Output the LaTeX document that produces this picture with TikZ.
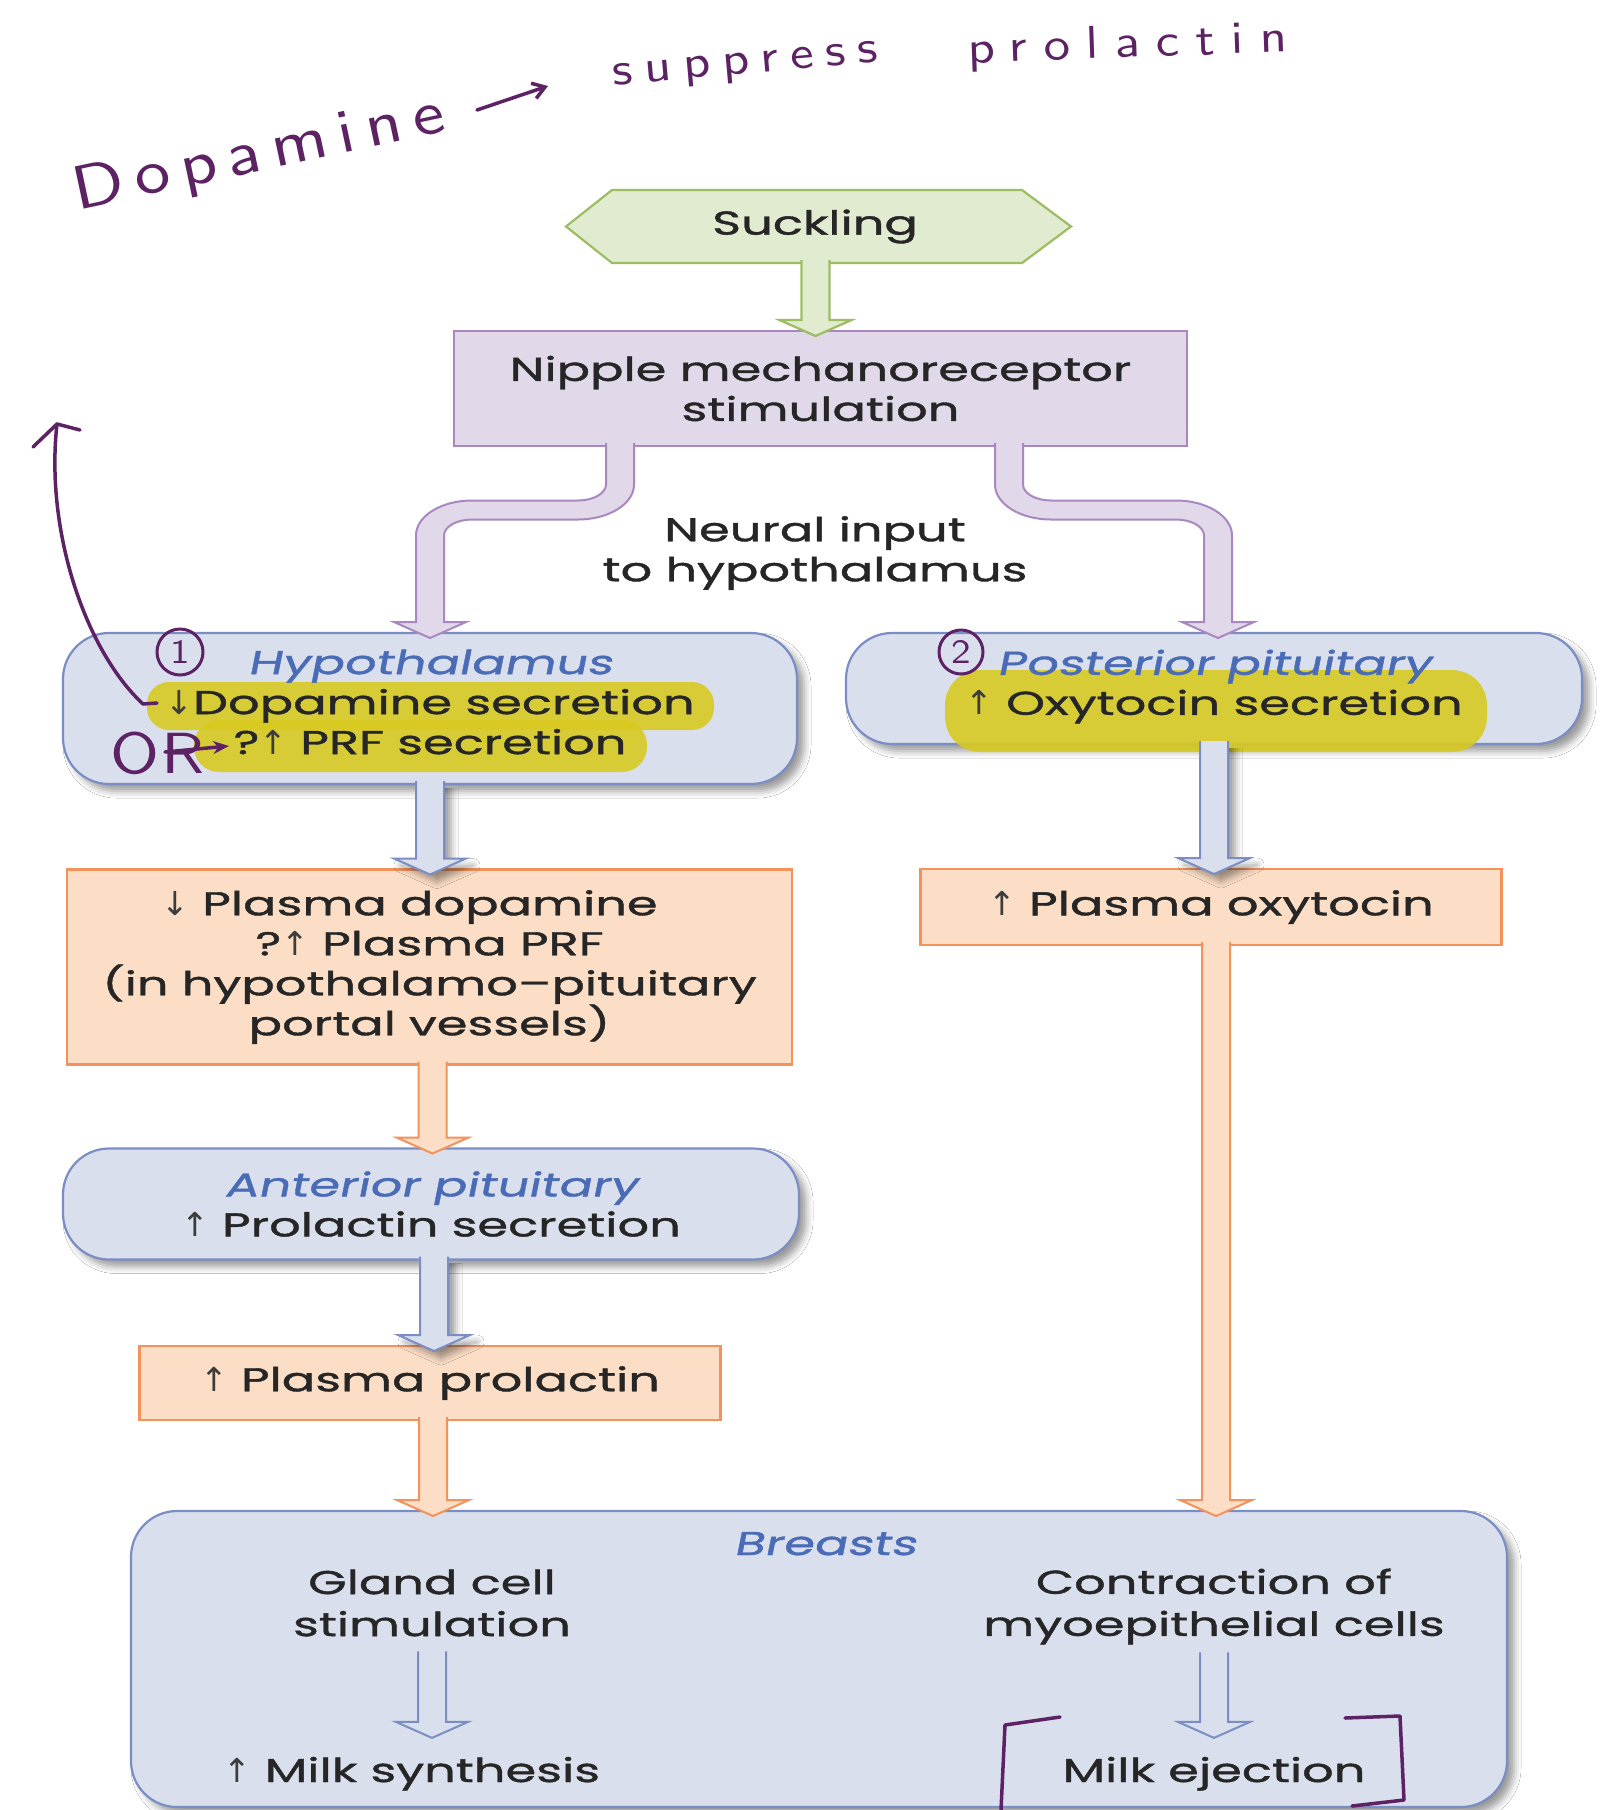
\documentclass[tikz,border=0pt]{standalone}
\usepackage{fontspec}
\setmainfont{Poppins}[FakeStretch=1.5,FakeBold=1.2]
\newfontfamily\slantfont{Poppins}[FakeStretch=1.5,FakeSlant=0.2,FakeBold=1.2]
\newfontfamily\arrowglyphs{DejaVu Sans}
\newfontfamily\penfamily{lmsans10-regular.otf}[FakeStretch=1.15]
\usetikzlibrary{calc,arrows.meta,shadows.blur}

\definecolor{ink}{HTML}{262626}
\definecolor{inkgray}{HTML}{3C3C3C}
\definecolor{bluefill}{HTML}{DADFEE}
\definecolor{blueline}{HTML}{7A8EC4}
\definecolor{bluelabel}{HTML}{4A6CB6}
\definecolor{orangefill}{HTML}{FCDEC6}
\definecolor{orangeline}{HTML}{F3935B}
\definecolor{lilacfill}{HTML}{E1D9EA}
\definecolor{lilacline}{HTML}{AA87C0}
\definecolor{greenfill}{HTML}{E1EBCF}
\definecolor{greenline}{HTML}{9CBD62}
\definecolor{pen}{HTML}{5C2264}
\definecolor{marker}{HTML}{D8CA22}

\newcommand\bodysize{\fontsize{33}{40}\selectfont}
\newcommand\upmark{{\arrowglyphs\color{inkgray}↑}}
\newcommand\downmark{{\arrowglyphs\color{inkgray}↓}}
% handwriting: size #1, extra letter spacing #2
\newcommand\penfont[2]{\penfamily\addfontfeature{LetterSpace=#2}\fontsize{#1}{#1}\selectfont}

% straight block arrow: leaves #2 (shaft start), tip just inside #3
\newcommand\vblock[3][]{%
  \path[#1] let \p1=(#2), \p2=(#3) in
    (\x2-14pt,\y1+3pt) -- (\x2-14pt,\y2+11pt) -- (\x2-36pt,\y2+11pt)
    -- (\x2,\y2-5pt) -- (\x2+36pt,\y2+11pt) -- (\x2+14pt,\y2+11pt)
    -- (\x2+14pt,\y1+3pt);%
}
% block arrow with two bends: down from #2, sideways (#4 = +1 right, -1 left), down to #3
\newcommand\elbow[4][]{%
  \path[#1] let \p1=(#2), \p2=(#3), \n1={#4} in
    (\x1+\n1*14pt,\y1+3pt)
    -- (\x1+\n1*14pt,\y1-38.5pt)
    .. controls (\x1+\n1*14pt,\y1-47.33pt) and (\x1+\n1*26.54pt,\y1-54.5pt) .. (\x1+\n1*42pt,\y1-54.5pt)
    -- (\x2-\n1*42pt,\y1-54.5pt)
    .. controls (\x2-\n1*11.09pt,\y1-54.5pt) and (\x2+\n1*14pt,\y1-70.18pt) .. (\x2+\n1*14pt,\y1-89.5pt)
    -- (\x2+\n1*14pt,\y2+11pt) -- (\x2+\n1*36pt,\y2+11pt) -- (\x2,\y2-5pt)
    -- (\x2-\n1*36pt,\y2+11pt) -- (\x2-\n1*14pt,\y2+11pt)
    -- (\x2-\n1*14pt,\y1-89.5pt)
    .. controls (\x2-\n1*14pt,\y1-80.67pt) and (\x2-\n1*26.54pt,\y1-73.5pt) .. (\x2-\n1*42pt,\y1-73.5pt)
    -- (\x1+\n1*42pt,\y1-73.5pt)
    .. controls (\x1+\n1*11.09pt,\y1-73.5pt) and (\x1-\n1*14pt,\y1-57.82pt) .. (\x1-\n1*14pt,\y1-38.5pt)
    -- (\x1-\n1*14pt,\y1+3pt);%
}

\begin{document}
\begin{tikzpicture}[x=1pt,y=-1pt,
  txt/.style={inner sep=0pt, outer sep=0pt, align=center, text=ink, font=\bodysize},
  lbl/.style={inner sep=0pt, outer sep=0pt, text=bluelabel, font=\slantfont\bodysize},
  soft shadow/.style={blur shadow={shadow xshift=7pt, shadow yshift=-7pt,
      shadow blur radius=7pt, shadow opacity=40}},
  shapebox/.style={inner sep=0pt, outer sep=0pt, line width=2.2pt},
  bluebox/.style={shapebox, draw=blueline, fill=bluefill, rounded corners=46pt, soft shadow},
  orangebox/.style={shapebox, draw=orangeline, fill=orangefill},
  lilacbox/.style={shapebox, draw=lilacline, fill=lilacfill},
  blueflow/.style={draw=blueline, fill=bluefill, line width=2pt, soft shadow},
  orangeflow/.style={draw=orangeline, fill=orangefill, line width=2pt},
  lilacflow/.style={draw=lilacline, fill=lilacfill, line width=2pt},
  greenflow/.style={draw=greenline, fill=greenfill, line width=2.2pt},
  openflow/.style={draw=blueline, line width=2pt},
  penline/.style={draw=pen, line width=3.5pt, line cap=round, line join=round},
  handtext/.style={inner sep=0pt, outer sep=0pt, text=pen},
  highlight/.style={fill=marker, fill opacity=0.9, rounded corners=22pt},
]
\fill[white] (0,0) rectangle (1614,1810);
\useasboundingbox (0,0) rectangle (1614,1810);

% ---------- top: suckling and receptor ----------
\node[inner sep=0pt, outer sep=0pt, minimum width=505pt, minimum height=73pt] (suckframe) at (818.5,226.5) {};
\path[greenflow] (suckframe.west) -- ($(suckframe.north west)+(46,0)$) -- ($(suckframe.north east)+(-49,0)$)
  -- (suckframe.east) -- ($(suckframe.south east)+(-49,0)$) -- ($(suckframe.south west)+(46,0)$) -- cycle;
\node[txt] (suck) at (815,226.5) {Suckling};

\node[lilacbox, txt, minimum width=733pt, minimum height=115pt] (nip) at (820.5,388.5)
  {Nipple mechanoreceptor\\stimulation};
\node[txt] (neural) at (815,553) {Neural input\\to hypothalamus};

% ---------- hypothalamus / posterior pituitary ----------
\node[bluebox, minimum width=734pt, minimum height=151pt] (hyp) at (430,708.5) {};
\node[bluebox, minimum width=736pt, minimum height=111pt] (post) at (1214,688.5) {};

\path[highlight] (147,682) rectangle (714,730);
\path[highlight, rounded corners=25pt] (194,720) rectangle (647,772);
\path[highlight, rounded corners=35pt] (945,670) rectangle (1487,752);

\node[txt] (hyptext) at (430,702)
  {\textcolor{bluelabel}{\slantfont Hypothalamus}\\\downmark Dopamine secretion\\?\upmark\ PRF secretion};
\node[txt] (posttext) at (1214,686.5)
  {\textcolor{bluelabel}{\slantfont Posterior pituitary}\\\upmark\ Oxytocin secretion};

% ---------- plasma levels and anterior pituitary ----------
\node[orangebox, txt, minimum width=725pt, minimum height=195pt] (dop) at (429.5,967)
  {\downmark\ Plasma dopamine\hspace*{40pt}\\?\upmark\ Plasma PRF\\(in hypothalamo–pituitary\\portal vessels)};
\node[orangebox, txt, minimum width=581pt, minimum height=76pt] (oxy) at (1211,907)
  {\upmark\ Plasma oxytocin};
\node[bluebox, txt, minimum width=736pt, minimum height=111pt] (ant) at (431,1204)
  {\textcolor{bluelabel}{\slantfont Anterior pituitary}\\\upmark\ Prolactin secretion};
\node[orangebox, txt, minimum width=581pt, minimum height=74pt] (prl) at (430,1383)
  {\upmark\ Plasma prolactin};

% ---------- breasts ----------
\node[bluebox, minimum width=1376pt, minimum height=296pt] (brs) at (819,1659) {};
\node[lbl, anchor=base] (brslabel) at (825,1555) {Breasts};
\node[txt, font=\fontsize{33}{42}\selectfont] (gland) at (432,1603) {Gland cell\\stimulation};
\node[txt, font=\fontsize{33}{42}\selectfont] (contr) at (1214,1606.5) {Contraction of\\myoepithelial cells};
\node[txt, anchor=base] (milksyn) at (412,1782) {\upmark\ Milk synthesis};
\node[txt, anchor=base] (eject) at (1214,1782) {Milk ejection};

% ---------- flow arrows ----------
\vblock[greenflow]{suckframe.south}{$(suckframe.south |- nip.north)+(-3,0)$}
\elbow[lilacflow]{$(nip.south)+(-200.5,0)$}{hyp.north}{-1}
\elbow[lilacflow]{$(nip.south)+(188.5,0)$}{$(post.north)+(4,0)$}{1}
\vblock[blueflow]{hyp.south}{hyp.south |- dop.north}
\vblock[blueflow]{post.south}{post.south |- oxy.north}
\vblock[orangeflow]{dop.south}{$(dop.south |- ant.north)+(3,0)$}
\vblock[blueflow]{ant.south}{$(ant.south |- prl.north)+(3,0)$}
\vblock[orangeflow]{prl.south}{$(prl.south |- brs.north)+(3,0)$}
\vblock[orangeflow]{oxy.south}{$(oxy.south |- brs.north)+(5,0)$}
\vblock[openflow]{$(gland.south)+(0,18)$}{$(gland.south |- milksyn.north)+(0,-24)$}
\vblock[openflow]{$(contr.south)+(0,11)$}{$(contr.south |- eject.north)+(0,-24)$}

% ---------- pen notes ----------
\node[handtext, anchor=base west, rotate=12, font=\penfont{62}{18}] (hwdopa) at (77,210) {Dopamine};
\node[handtext, anchor=base west, rotate=5, font=\penfont{46}{26}] (hwsupp) at (613,85) {suppress};
\node[handtext, anchor=base west, rotate=2, font=\penfont{46}{35}] (hwprol) at (968,63) {prolactin};
\coordinate (hwa1) at (477,110);
\coordinate (hwa2) at (548,86);
\draw[penline, -{Straight Barb[length=12pt,width=16pt]}] (hwa1) -- (hwa2);

\node[handtext, circle, draw=pen, line width=3pt, minimum size=46pt, font=\penfont{34}{0}] (one) at (180,652) {1};
\node[handtext, circle, draw=pen, line width=3pt, minimum size=44pt, font=\penfont{34}{0}] (two) at (961,652) {2};

\node[handtext, anchor=base west, font=\penfont{58}{5}] (hwor) at (110,773) {OR};
\coordinate (orstart) at (165,752);
\coordinate (ortip) at (229,746);
\draw[penline, -{Stealth[length=16pt,width=13pt]}] (orstart) -- (ortip);

\coordinate (dnmark) at (157,703);
\coordinate (curvetip) at (57,424);
\draw[penline] (dnmark) -- (143,704) .. controls (85,650) and (45,530) .. (curvetip);
\draw[penline] (33,447) -- (curvetip) -- (80,430);

\draw[penline] (1060,1717) -- (1005,1725) -- (1001,1810);
\draw[penline] (1345,1718) -- (1400,1716) -- (1404,1800) -- (1352,1806);
\end{tikzpicture}
\end{document}
